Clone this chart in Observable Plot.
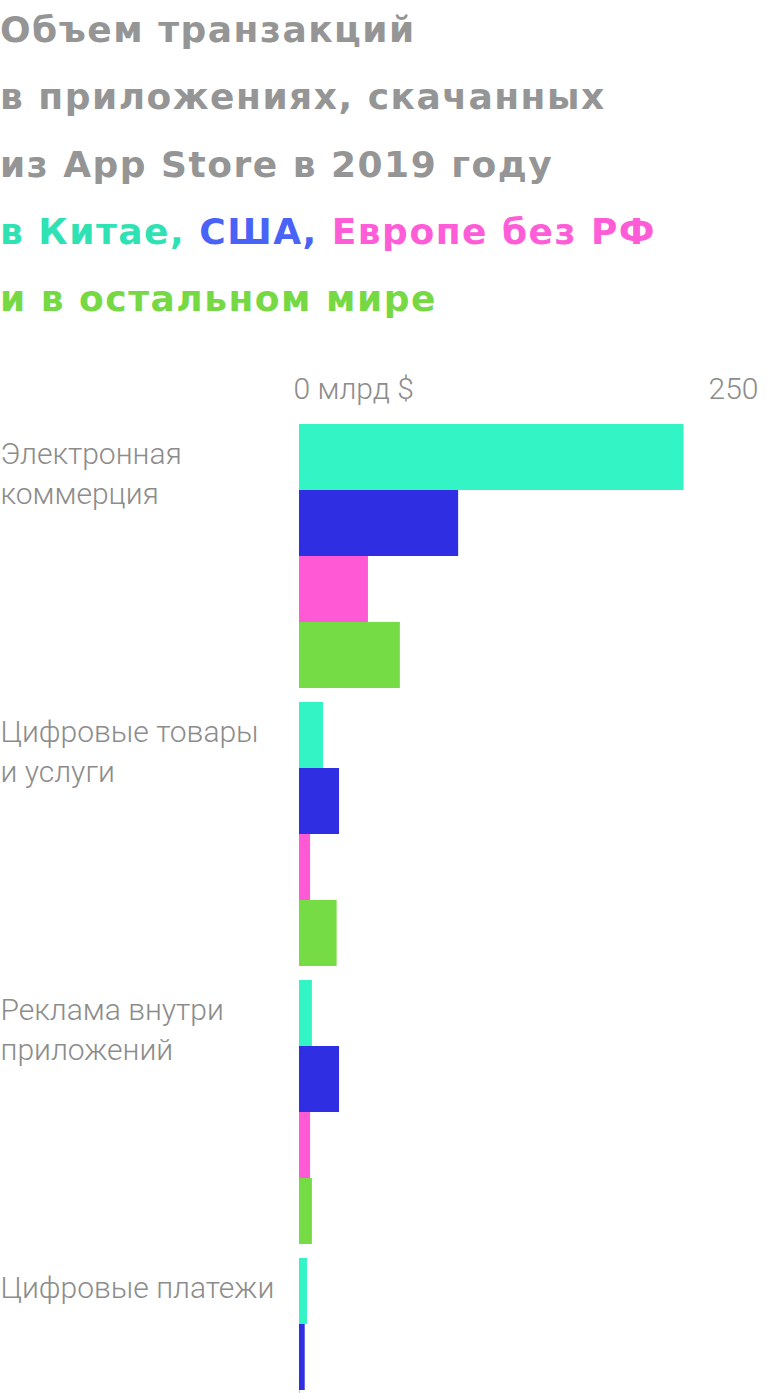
<!DOCTYPE html>
<html>
<head>
<meta charset="utf-8">
<script src="https://cdn.jsdelivr.net/npm/d3@7"></script>
<script src="https://cdn.jsdelivr.net/npm/@observablehq/plot@0.6"></script>
<style>
  html, body { margin: 0; padding: 0; background: #fff; }
  #title { height: 340px; box-sizing: border-box; margin: 0;
    font-family: "DejaVu Sans", sans-serif; font-weight: 700; font-size: 36px; letter-spacing: 1.5px;
    line-height: 67.3px; color: #959595; }
  #title div { white-space: nowrap; position: relative; top: -4px; }
  .c1 { color: #2fe2b4; } .c2 { color: #4a63f7; } .c3 { color: #ff5cd8; } .c4 { color: #76d944; }
</style>
</head>
<body>
<div id="title">
  <div>Объем транзакций</div>
  <div>в приложениях, скачанных</div>
  <div>из App Store в 2019 году</div>
  <div><span class="c1">в Китае,</span> <span class="c2">США,</span> <span class="c3">Европе без РФ</span></div>
  <div><span class="c4">и в остальном мире</span></div>
</div>
<div id="chart"></div>
<script>
const categories = ["Электронная коммерция", "Цифровые товары и услуги", "Реклама внутри приложений", "Цифровые платежи"];
const categoryLabels = ["Электронная\nкоммерция", "Цифровые товары\nи услуги", "Реклама внутри\nприложений", "Цифровые платежи"];
const regions = ["Китай", "США", "Европа без РФ", "Остальной мир"];
const barColors = ["#33f4c5", "#2f2ee3", "#ff59d6", "#76dc45"];

const china  = [208.5, 13.0, 7.0, 4.3];
const usa    = [86.3, 21.7, 21.7, 3.1];
const europe = [37.4, 6.0, 6.0, 0.3];
const rest   = [54.7, 20.4, 7.0, 2.5];

const axisTicks = [0, 250];
const axisTickLabels = ["0 млрд $", "250"];

const series = [china, usa, europe, rest];
const data = categories.flatMap((c, i) => regions.map((r, j) => ({category: c, region: r, value: series[j][i]})));
const labelData = categories.map((c, i) => ({category: c, region: regions[0], label: categoryLabels[i]}));

const chart = Plot.plot({
  width: 768,
  height: 1192,
  marginLeft: 299,
  marginRight: 8,
  marginTop: 84,
  marginBottom: 10,
  style: {fontFamily: "Roboto, 'Noto Sans', sans-serif", fontWeight: 300, color: "#8c8c8c", background: "#fff"},
  x: {domain: [0, 250], axis: null},
  y: {domain: regions, padding: 0, axis: null},
  fy: {domain: categories, paddingInner: 14 / 278, paddingOuter: 0, axis: null},
  color: {domain: regions, range: barColors},
  marks: [
    Plot.barX(data, {x: "value", y: "region", fy: "category", fill: "region"}),
    Plot.text(labelData, {fy: "category", y: "region", text: "label", frameAnchor: "left", textAnchor: "start",
      lineAnchor: "top", dx: -299, dy: -22, fontSize: 30, fontWeight: 300, lineHeight: 1.333, fill: "#8c8c8c"}),
    Plot.axisX({anchor: "top", ticks: [axisTicks[0]], tickFormat: () => axisTickLabels[0], textAnchor: "start",
      tickSize: 0, tickPadding: 26, fontSize: 30, fontWeight: 300, dx: -6, label: null, fill: "#8c8c8c"}),
    Plot.axisX({anchor: "top", ticks: [axisTicks[1]], tickFormat: () => axisTickLabels[1], textAnchor: "end",
      tickSize: 0, tickPadding: 26, fontSize: 30, fontWeight: 300, dx: -2, label: null, fill: "#8c8c8c"})
  ]
});
document.getElementById("chart").appendChild(chart);
</script>
</body>
</html>
